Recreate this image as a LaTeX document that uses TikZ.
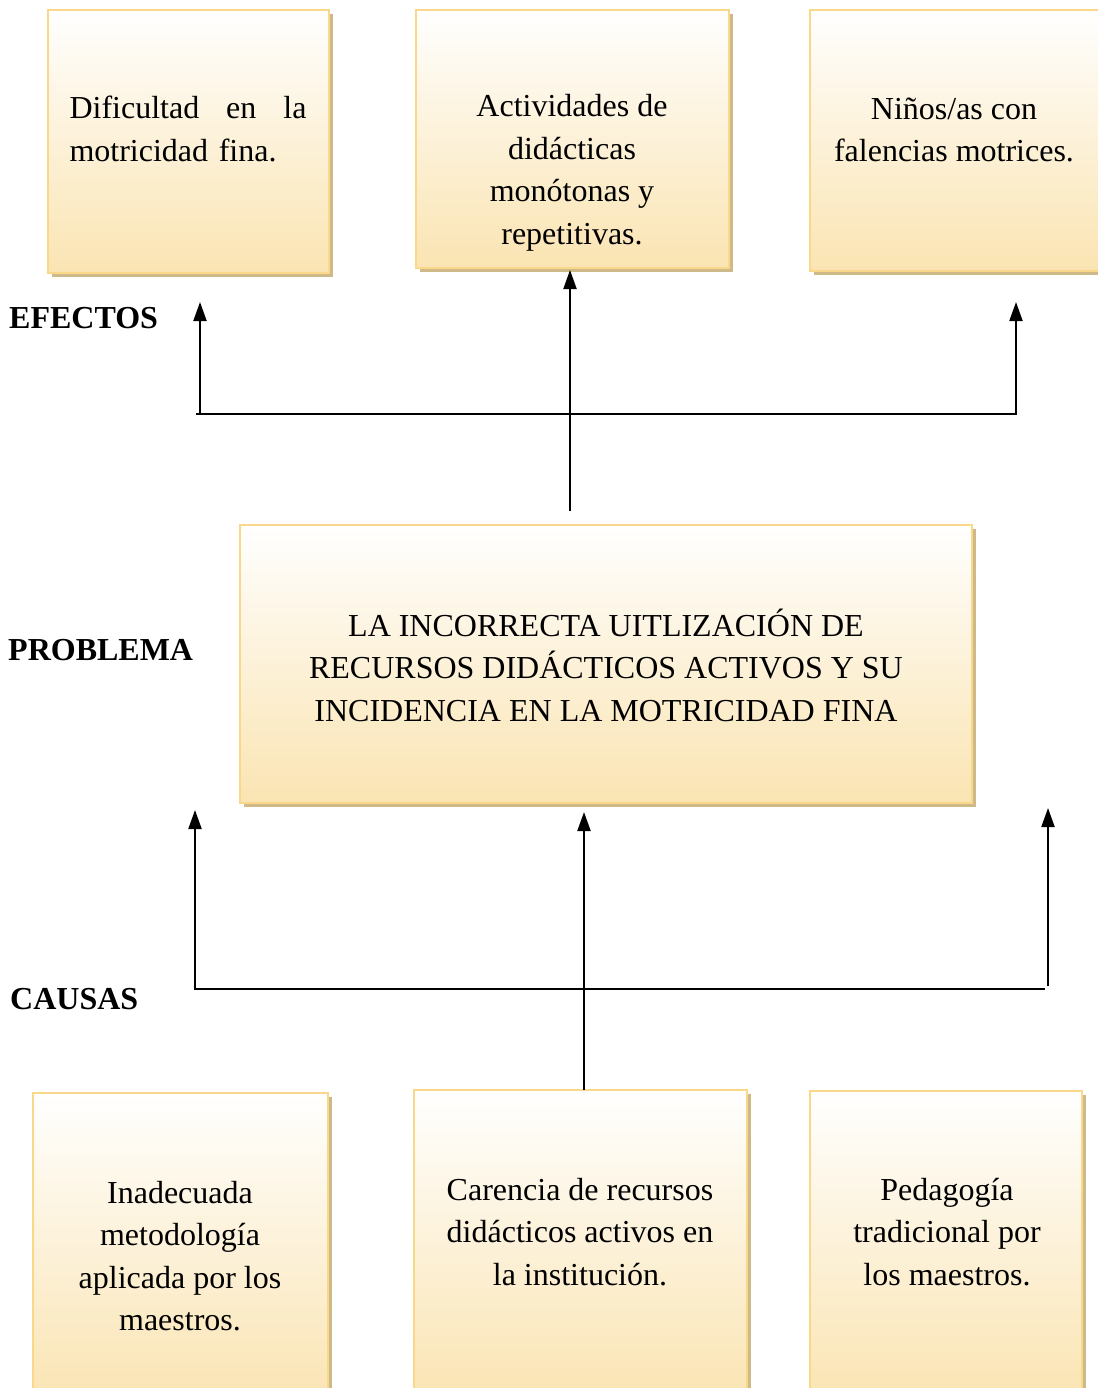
\documentclass[tikz,border=0pt]{standalone}
\usepackage{fontspec}
\setmainfont{Liberation Serif}
\usetikzlibrary{arrows.meta,shadows}
\definecolor{boxbot}{RGB}{250,228,178}
\definecolor{boxline}{RGB}{250,216,138}
\definecolor{shadowc}{RGB}{205,186,136}
\tikzset{
  sbox/.style={draw=boxline, line width=2pt, top color=white, bottom color=boxbot,
    anchor=north west, inner sep=0pt, outer sep=0pt,
    drop shadow={shadow xshift=4pt, shadow yshift=-4pt, fill=shadowc, opacity=1}},
  btext/.style={font=\fontsize{32}{42.5}\selectfont, align=center, inner sep=0pt},
  lbl/.style={font=\fontsize{32}{36}\selectfont\bfseries, anchor=west, inner sep=0pt},
  conn/.style={line width=2pt, black},
  arr/.style={conn, -{Triangle[length=19pt, width=13pt]}}
}
\begin{document}
\begin{tikzpicture}[x=1pt, y=-1pt]
\useasboundingbox (0,0) rectangle (1097,1388);
% effect boxes
\node[sbox, minimum width=281pt, minimum height=263pt] (e1) at (48,10) {};
\node[sbox, minimum width=313pt, minimum height=258pt] (e2) at (416,10) {};
\node[sbox, minimum width=300pt, minimum height=261pt] (e3) at (810,10) {};
% problem box
\node[sbox, minimum width=732pt, minimum height=278pt] (p) at (240,525) {};
% cause boxes
\node[sbox, minimum width=295pt, minimum height=310pt] (c1) at (33,1093) {};
\node[sbox, minimum width=333pt, minimum height=310pt] (c2) at (414,1090) {};
\node[sbox, minimum width=272pt, minimum height=310pt] (c3) at (810,1091) {};
% texts
\node[btext, text width=237pt, align=left] (te1) at (188,129) {Dificultad\hfill en\hfill la\\motricidad fina.};
\node[btext] (te2) at (572,173) {Actividades de\\didácticas\\monótonas y\\repetitivas.};
\node[btext] (te3) at (954,130) {Niños/as con\\falencias motrices.};
\node[btext] (tp) at (606,665) {LA INCORRECTA UITLIZACIÓN DE\\RECURSOS DIDÁCTICOS ACTIVOS Y SU\\INCIDENCIA EN LA MOTRICIDAD FINA};
\node[btext] (tc1) at (180,1256) {Inadecuada\\metodología\\aplicada por los\\maestros.};
\node[btext] (tc2) at (580,1232) {Carencia de recursos\\didácticos activos en\\la institución.};
\node[btext] (tc3) at (947,1232) {Pedagogía\\tradicional por\\los maestros.};
% labels
\node[lbl] (lef) at (9,318) {EFECTOS};
\node[lbl] (lpr) at (8,650) {PROBLEMA};
\node[lbl] (lca) at (10,999) {CAUSAS};
% effect connectors
\coordinate (eL) at (196,414);
\coordinate (eR) at (1017,414);
\coordinate (eLt) at (200,302);
\coordinate (eRt) at (1016,302);
\coordinate (pt) at (570,511);
\draw[conn] (eL) -- (eR);
\draw[arr] (eLt |- eL) -- (eLt);
\draw[arr] (eRt |- eR) -- (eRt);
\draw[arr] (pt) -- (pt |- 0,270);
% cause connectors
\coordinate (cL) at (194,989);
\coordinate (cR) at (1045,989);
\coordinate (cLt) at (195,810);
\coordinate (cRt) at (1048,808);
\coordinate (cRb) at (1048,986);
\coordinate (cMt) at (584,812);
\draw[conn] (cL) -- (cR);
\draw[arr] (cLt |- cL) -- (cLt);
\draw[arr] (cRb) -- (cRt);
\draw[arr] (cMt |- c2.north) -- (cMt);
\end{tikzpicture}
\end{document}
